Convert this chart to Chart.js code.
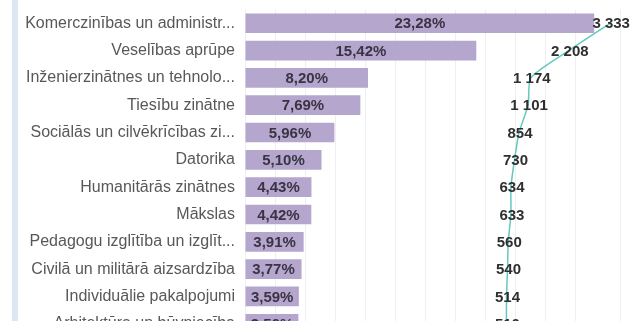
<!DOCTYPE html>
<html>
<head>
<meta charset="utf-8">
<script src="https://cdn.jsdelivr.net/npm/chart.js@4"></script>
<style>
  html, body { margin: 0; padding: 0; background: #fff; overflow: hidden; }
  body { width: 635px; height: 321px; position: relative; }
  #wrap { position: absolute; left: 0; top: -10px; width: 635px; height: 367px; }
  #strip { position: absolute; left: 12px; top: 0; width: 6px; height: 321px; background: #dbe7f3; }
</style>
</head>
<body>
<div id="wrap"><canvas id="c"></canvas></div>
<div id="strip"></div>
<script>
// Study fields: share of students (%) and number of students
const categories = [
  "Komerczinības un administr...",
  "Veselības aprūpe",
  "Inženierzinātnes un tehnolo...",
  "Tiesību zinātne",
  "Sociālās un cilvēkrīcības zi...",
  "Datorika",
  "Humanitārās zinātnes",
  "Mākslas",
  "Pedagogu izglītība un izglīt...",
  "Civilā un militārā aizsardzība",
  "Individuālie pakalpojumi",
  "Arhitektūra un būvniecība"
];
const shares = [23.28, 15.42, 8.20, 7.69, 5.96, 5.10, 4.43, 4.42, 3.91, 3.77, 3.59, 3.56];
const counts = [3333, 2208, 1174, 1101, 854, 730, 634, 633, 560, 540, 514, 510];

const fmtShare = v => v.toFixed(2).replace('.', ',') + '%';
const fmtCount = v => String(v).replace(/\B(?=(\d{3})+(?!\d))/g, '\u00a0');

// Draws value labels: percentages centred in bars, counts centred on line points
const valueLabels = {
  id: 'valueLabels',
  afterDatasetsDraw(chart) {
    const ctx = chart.ctx;
    ctx.save();
    ctx.textAlign = 'center';
    ctx.textBaseline = 'middle';
    ctx.font = 'bold 15px "Liberation Sans", Arial, sans-serif';
    ctx.fillStyle = '#3a3344';
    chart.getDatasetMeta(0).data.forEach((bar, i) => {
      ctx.fillText(fmtShare(shares[i]), (bar.x + bar.base) / 2, bar.y + 1);
    });
    ctx.fillStyle = '#2f2f2f';
    chart.getDatasetMeta(1).data.forEach((pt, i) => {
      ctx.fillText(fmtCount(counts[i]), pt.x + 1, pt.y + 1);
    });
    ctx.restore();
  }
};

new Chart(document.getElementById('c'), {
  type: 'bar',
  data: {
    labels: categories,
    datasets: [
      {
        label: 'Īpatsvars',
        data: shares,
        backgroundColor: '#b4a6cd',
        barPercentage: 0.9,
        categoryPercentage: 0.8,
        xAxisID: 'x',
        order: 2
      },
      {
        type: 'line',
        label: 'Skaits',
        data: counts,
        indexAxis: 'y',
        xAxisID: 'x2',
        borderColor: '#62c9c0',
        borderWidth: 1.5,
        pointRadius: 0,
        tension: 0.2,
        order: 1
      }
    ]
  },
  options: {
    indexAxis: 'y',
    responsive: true,
    maintainAspectRatio: false,
    animation: false,
    layout: { padding: { left: 0, right: 15, top: 9, bottom: 3 } },
    plugins: {
      legend: { display: false },
      tooltip: { enabled: false }
    },
    scales: {
      x: {
        min: 0,
        max: 25,
        ticks: { display: false, stepSize: 2 },
        grid: { color: '#efefef', drawTicks: false },
        border: { display: false }
      },
      x2: {
        display: false,
        min: -6600,
        max: 3600
      },
      y: {
        afterFit(scale) { scale.width = 245; },
        grid: { display: false, drawTicks: false },
        border: { display: false },
        ticks: {
          padding: 10,
          color: '#585858',
          font: { family: '"Liberation Sans", Arial, sans-serif', size: 16 }
        }
      }
    }
  },
  plugins: [valueLabels]
});
</script>
</body>
</html>
